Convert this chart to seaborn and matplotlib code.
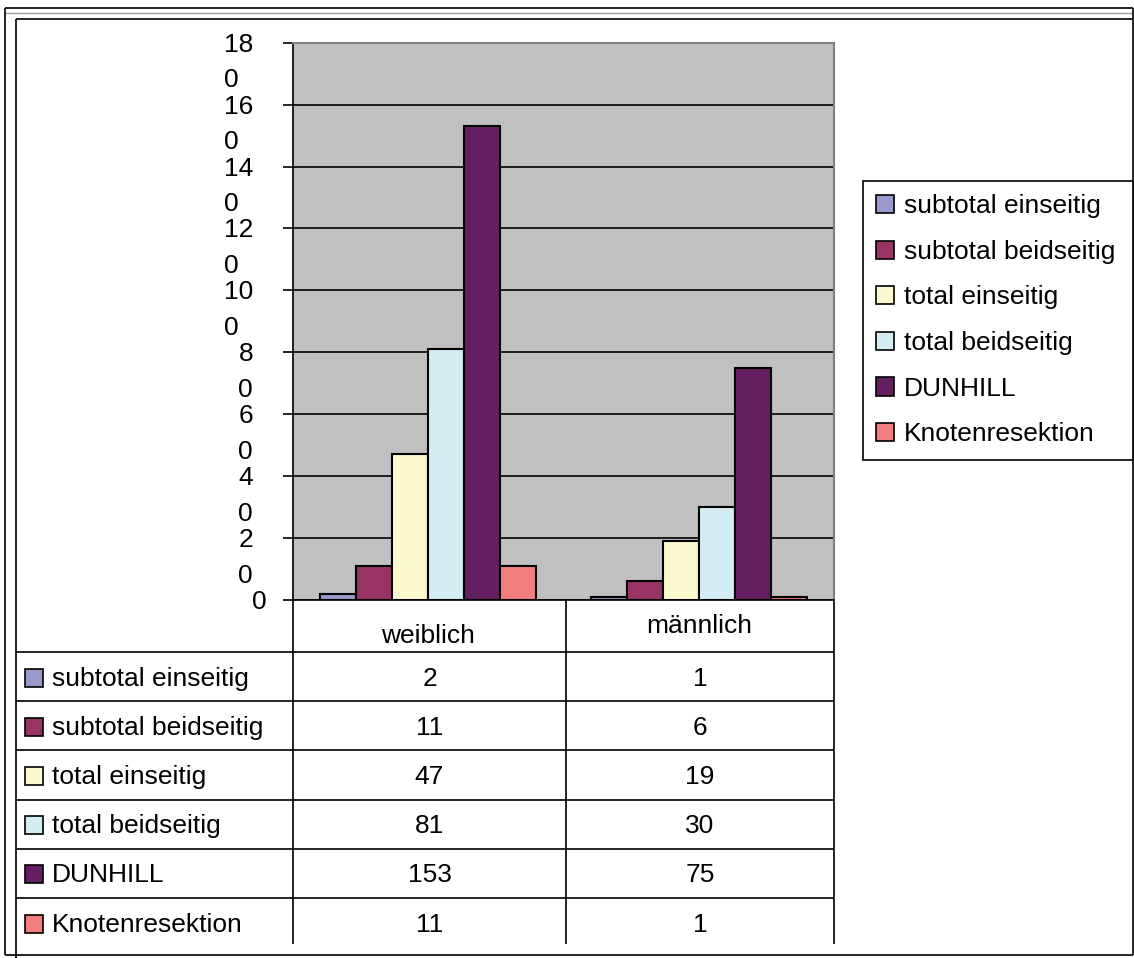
import matplotlib
matplotlib.use("Agg")
import matplotlib.pyplot as plt
import seaborn as sns
import pandas as pd
from matplotlib.patches import Patch, Rectangle
from matplotlib.transforms import ScaledTranslation

# --- data ---------------------------------------------------------------
groups = ["weiblich", "männlich"]
series = ["subtotal einseitig", "subtotal beidseitig", "total einseitig",
          "total beidseitig", "DUNHILL", "Knotenresektion"]
weiblich = [2, 11, 47, 81, 153, 11]
maennlich = [1, 6, 19, 30, 75, 1]
colors = ["#9999CC", "#993366", "#FBF8D0", "#D4ECF3", "#641E62", "#F27E7E"]
yticks = [0, 20, 40, 60, 80, 100, 120, 140, 160, 180]
ytick_labels = ["0", "2\n0", "4\n0", "6\n0", "8\n0", "10\n0", "12\n0",
                "14\n0", "16\n0", "18\n0"]

sns.set_theme(style="white")
plt.rcParams["font.family"] = ["Liberation Sans", "DejaVu Sans"]
plt.rcParams["text.color"] = "black"
FS = 19

W, H = 1134, 958
fig = plt.figure(figsize=(W / 100, H / 100), dpi=100)


def fx(x):
    return x / W


def fy(y):
    return 1 - y / H


# pixel-space canvas for the page frame and the data table
bg = fig.add_axes([0, 0, 1, 1], zorder=0)
bg.set_xlim(0, W)
bg.set_ylim(H, 0)
bg.axis("off")

ax = fig.add_axes([fx(293), fy(600), fx(834) - fx(293), fy(42.7) - fy(600)], zorder=1)

df = pd.DataFrame({
    "Geschlecht": [g for g in groups for _ in series],
    "Art": series * len(groups),
    "Anzahl": weiblich + maennlich,
})

sns.barplot(data=df, x="Geschlecht", y="Anzahl", hue="Art", order=groups,
            hue_order=series, palette=colors, saturation=1, width=0.8,
            edgecolor="black", linewidth=1.5, errorbar=None, legend=False,
            ax=ax, zorder=3)

ax.set_xlim(-0.5, 1.5)
ax.set_ylim(0, 180)
ax.set_facecolor("#C0C0C0")
ax.set_yticks(yticks)
ax.set_yticklabels(ytick_labels, fontsize=FS, linespacing=1.62,
                   multialignment="left")
ax.yaxis.grid(True, color="black", linewidth=1.2)
ax.set_axisbelow(True)
ax.set_xlabel("")
ax.set_ylabel("")
ax.tick_params(axis="y", length=7.2, width=1.2, color="black", pad=21.6,
               left=True, labelsize=FS, labelcolor="black")
ax.tick_params(axis="x", length=0, pad=17, labelsize=FS, labelcolor="black")

for side in ["left", "bottom"]:
    ax.spines[side].set_color("black")
    ax.spines[side].set_linewidth(1.2)
for side in ["top", "right"]:
    ax.spines[side].set_color("#808080")
    ax.spines[side].set_linewidth(1.5)

# y labels: first line centred on the tick
up = ScaledTranslation(0, 0.10, fig.dpi_scale_trans)
for lab in ax.get_yticklabels():
    lab.set_va("top")
    lab.set_transform(lab.get_transform() + up)
    if lab.get_text() == "0":
        lab.set_transform(lab.get_transform() + ScaledTranslation(0.14, 0, fig.dpi_scale_trans))

xlabs = ax.get_xticklabels()
xlabs[1].set_transform(xlabs[1].get_transform() + ScaledTranslation(0, 0.10, fig.dpi_scale_trans))

# legend
handles = [Patch(facecolor=c, edgecolor="black", linewidth=1.2, label=s)
           for c, s in zip(colors, series)]
leg = fig.legend(handles=handles, loc="upper left",
                 bbox_to_anchor=(fx(863), fy(461), fx(1133) - fx(863), fy(181) - fy(461)),
                 mode="expand", fontsize=FS, frameon=True, fancybox=False,
                 framealpha=1, edgecolor="black", handlelength=0.68,
                 handleheight=0.68, handletextpad=0.36, labelspacing=0.82,
                 borderpad=0.5, borderaxespad=0, labelcolor="black")
leg.get_frame().set_linewidth(1.2)
leg.set_zorder(5)

# page frame
line_kw = dict(color="black", linewidth=1.2, solid_capstyle="butt")
bg.plot([5, 1133], [8, 8], **line_kw)
bg.plot([5, 1133], [13, 13], color="#A0A0A0", linewidth=1.0)
bg.plot([16, 1133], [19, 19], **line_kw)
bg.plot([5, 5], [8, 955], **line_kw)
bg.plot([16, 16], [19, 958], **line_kw)
bg.plot([1133, 1133], [8, 955], **line_kw)
bg.plot([5, 1133], [955, 955], **line_kw)

# data table under the chart
row_top = 652
row_h = 49.2
table_bottom = 944
col_edges = [293, 566, 834]
col_centers = [(col_edges[0] + col_edges[1]) / 2, (col_edges[1] + col_edges[2]) / 2]
for x in col_edges:
    bg.plot([x, x], [600, table_bottom], **line_kw)
for i in range(len(series)):
    y = row_top + i * row_h
    bg.plot([16, 834], [y, y], **line_kw)

values_by_group = [weiblich, maennlich]
for i, (name, c) in enumerate(zip(series, colors)):
    yc = row_top + (i + 0.5) * row_h
    bg.add_patch(Rectangle((25, yc - 8), 18, 18, facecolor=c,
                           edgecolor="black", linewidth=1.2))
    bg.text(52, yc + 2, name, fontsize=FS, va="center", ha="left", color="black")
    for cx, vals in zip(col_centers, values_by_group):
        bg.text(cx, yc + 2, str(vals[i]), fontsize=FS, va="center", ha="center",
                color="black")

fig.savefig("out.png", dpi=100)
